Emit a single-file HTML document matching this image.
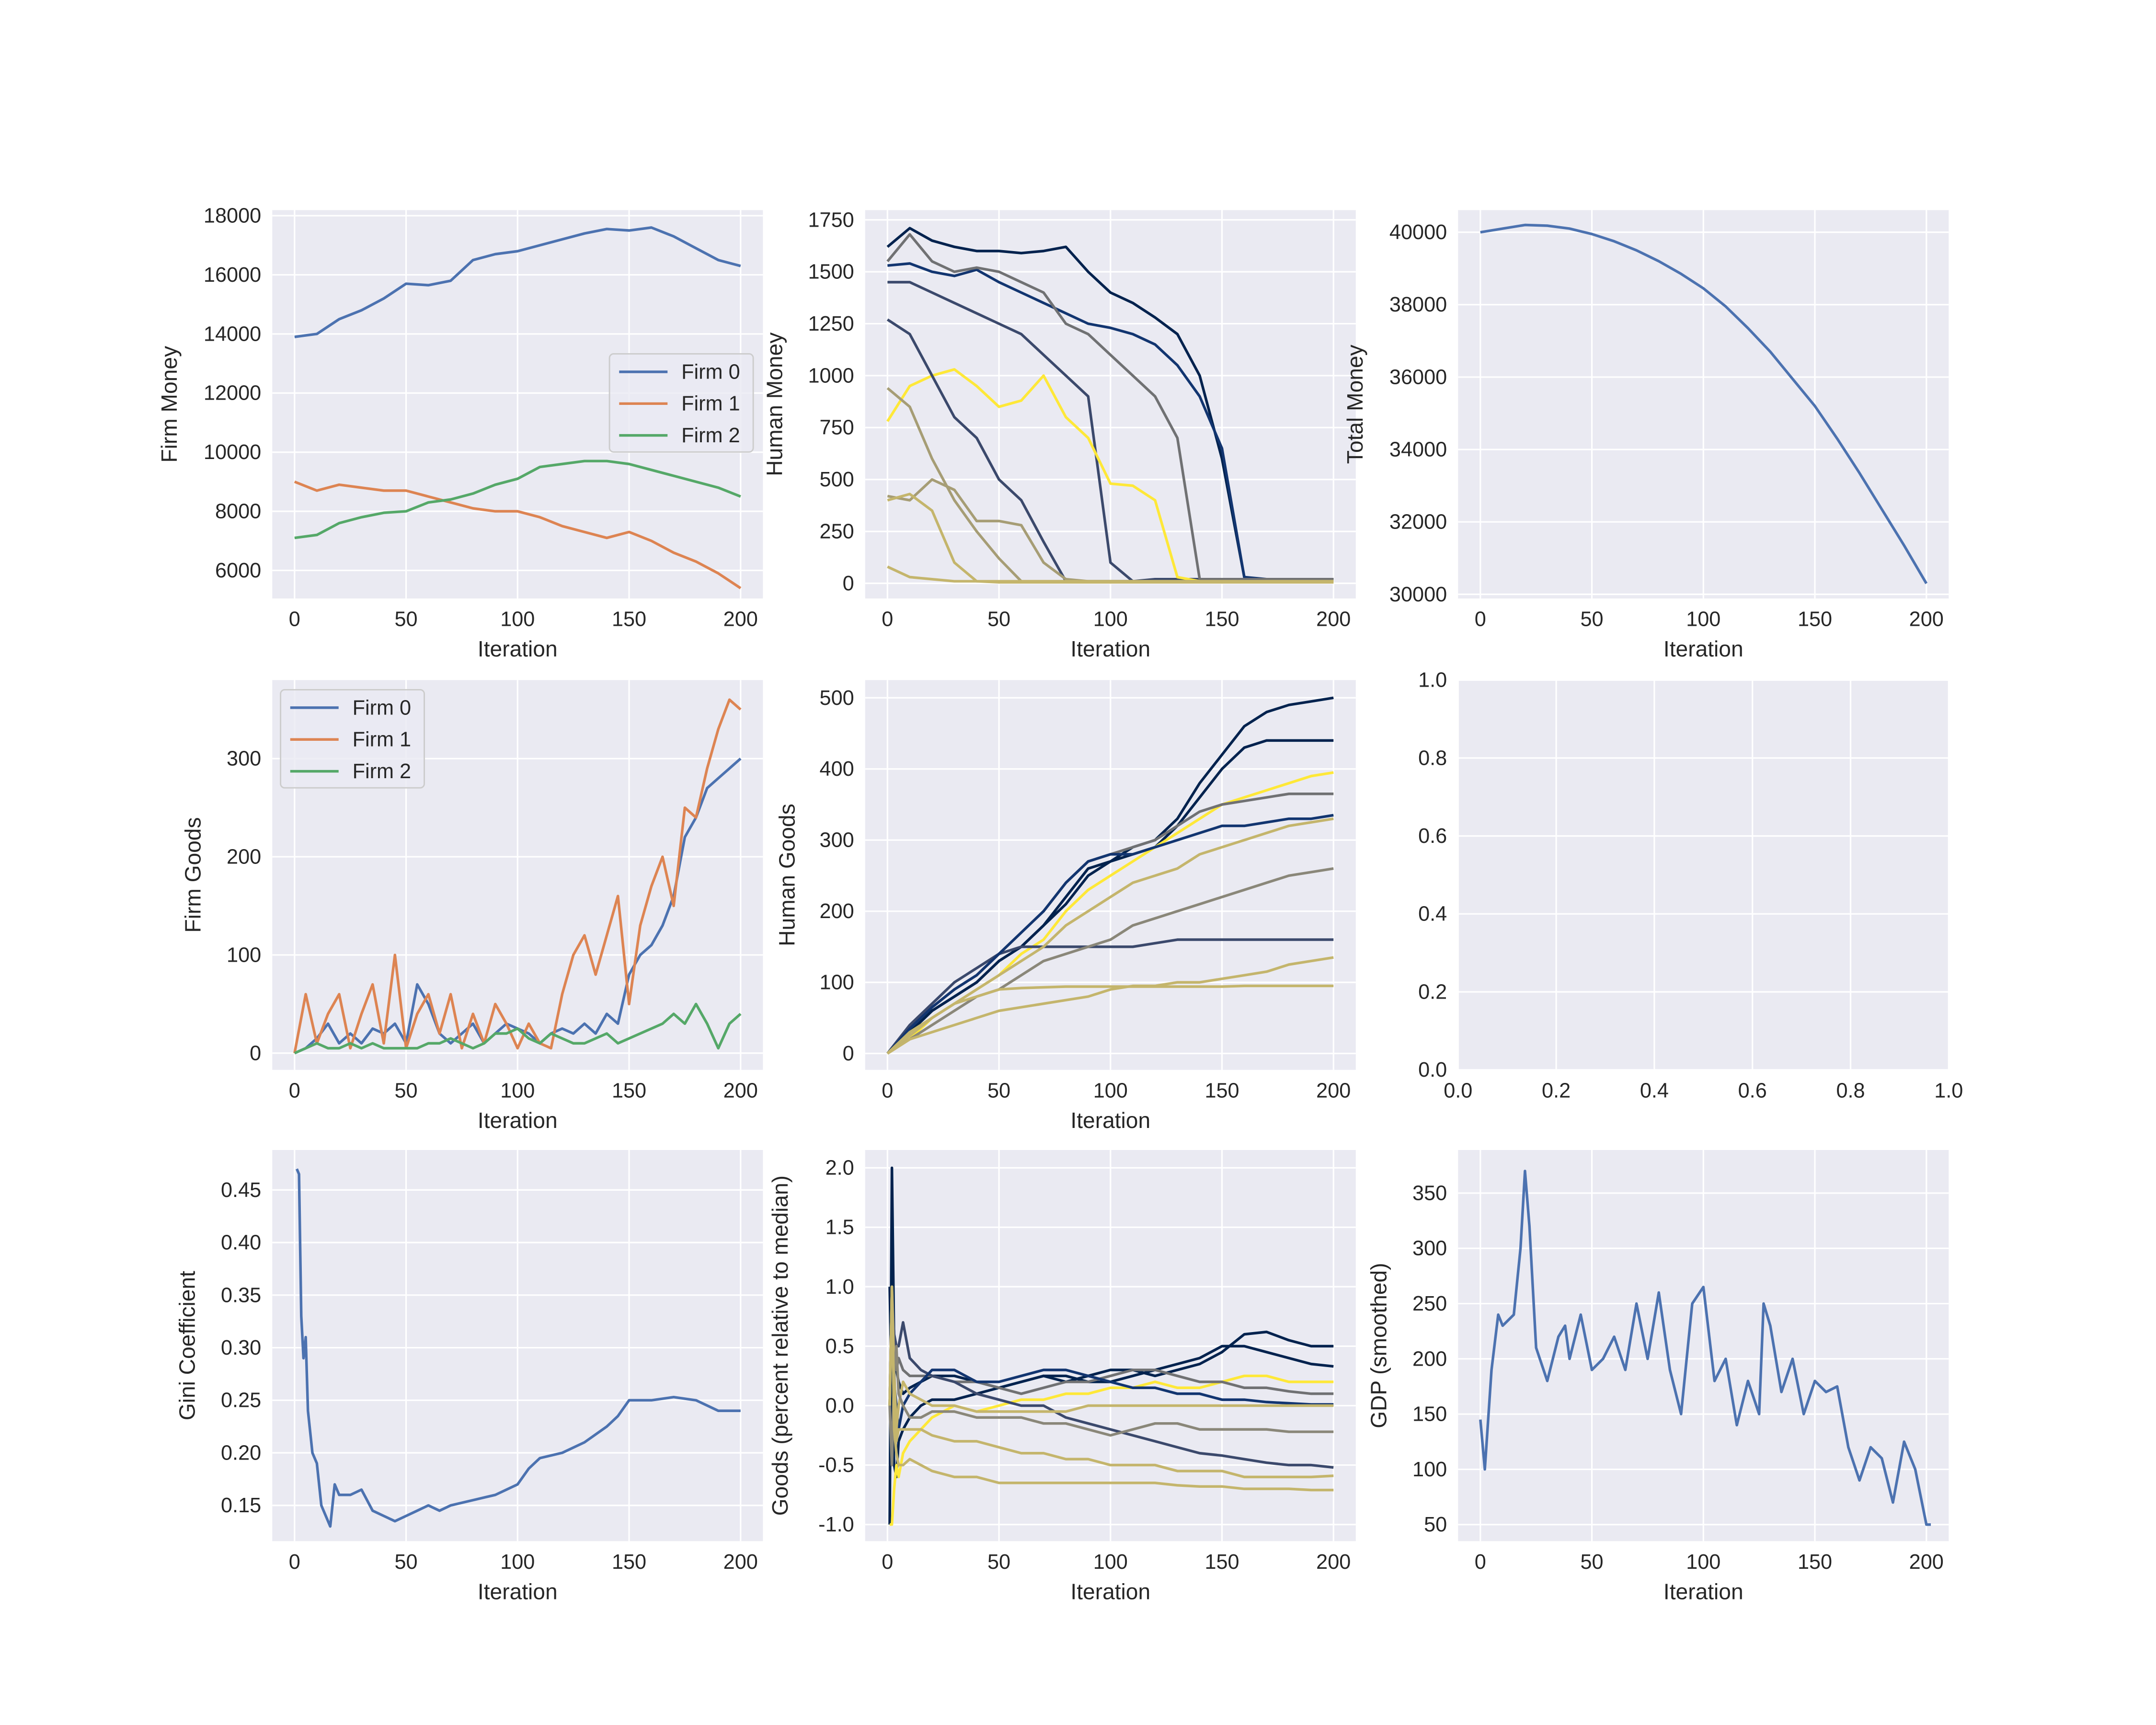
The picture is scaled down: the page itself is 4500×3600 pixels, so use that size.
<!DOCTYPE html>
<html><head><meta charset="utf-8">
<style>
html,body{margin:0;padding:0;background:#fff;}
svg{display:block;}
text{font-family:"Liberation Sans","DejaVu Sans",sans-serif;fill:#262626;}
</style></head>
<body>
<svg id="fig" width="4500" height="3600" viewBox="0 0 1560 1248" xmlns="http://www.w3.org/2000/svg"></svg>
<script>
// ---------- data ----------
const x10 = [0,10,20,30,40,50,60,70,80,90,100,110,120,130,140,150,160,170,180,190,200];
const x5 = [0,5,10,15,20,25,30,35,40,45,50,55,60,65,70,75,80,85,90,95,100,105,110,115,120,125,130,135,140,145,150,155,160,165,170,175,180,185,190,195,200];
const firmMoney0 = [13900,14000,14500,14800,15200,15700,15650,15800,16500,16700,16800,17000,17200,17400,17550,17500,17600,17300,16900,16500,16300];
const firmMoney1 = [9000,8700,8900,8800,8700,8700,8500,8300,8100,8000,8000,7800,7500,7300,7100,7300,7000,6600,6300,5900,5400];
const firmMoney2 = [7100,7200,7600,7800,7950,8000,8300,8400,8600,8900,9100,9500,9600,9700,9700,9600,9400,9200,9000,8800,8500];

const humanMoney = [
 [1620,1710,1650,1620,1600,1600,1590,1600,1620,1500,1400,1350,1280,1200,1000,600,30,10,20,20,20],
 [1530,1540,1500,1480,1510,1450,1400,1350,1300,1250,1230,1200,1150,1050,900,650,30,20,20,20,20],
 [1450,1450,1400,1350,1300,1250,1200,1100,1000,900,100,10,20,20,20,20,20,20,20,20,20],
 [1550,1680,1550,1500,1520,1500,1450,1400,1250,1200,1100,1000,900,700,20,20,20,20,20,20,20],
 [780,950,1000,1030,950,850,880,1000,800,700,480,470,400,30,10,10,10,10,10,10,10],
 [1270,1200,1000,800,700,500,400,200,10,10,10,10,10,10,10,10,10,10,10,10,10],
 [940,850,600,400,250,120,10,10,10,10,10,10,10,10,10,10,10,10,10,10,10],
 [420,400,500,450,300,300,280,100,20,10,10,10,10,10,10,10,10,10,10,10,10],
 [400,430,350,100,10,5,5,5,5,5,5,5,5,5,5,5,5,5,5,5,5],
 [80,30,20,10,10,10,10,10,10,10,10,10,10,10,10,10,10,10,10,10,10]
];
const humanMoneyColors = ["#00224e","#123570","#3b496c","#707173","#fee838","#3b496c","#a69d75","#a69d75","#c4b56c","#c4b56c"];

const totalMoney = [40000,40100,40200,40180,40100,39950,39750,39500,39200,38850,38450,37950,37350,36700,35950,35200,34300,33350,32350,31350,30300];

const firmGoods0 = [0,5,15,30,10,20,10,25,20,30,10,70,50,20,10,20,30,10,20,30,25,20,10,20,25,20,30,20,40,30,80,100,110,130,160,220,240,270,280,290,300];
const firmGoods1 = [0,60,10,40,60,5,40,70,10,100,5,40,60,20,60,5,40,10,50,30,5,30,10,5,60,100,120,80,120,160,50,130,170,200,150,250,240,290,330,360,350];
const firmGoods2 = [0,5,10,5,5,10,5,10,5,5,5,5,10,10,15,10,5,10,20,20,25,15,10,20,15,10,10,15,20,10,15,20,25,30,40,30,50,30,5,30,40];

const humanGoods = [
 [0,30,60,80,100,130,150,180,210,250,270,290,300,330,380,420,460,480,490,495,500],
 [0,30,60,80,100,130,150,180,220,260,270,280,290,320,360,400,430,440,440,440,440],
 [0,20,50,70,90,110,140,160,200,230,250,270,290,310,330,350,360,370,380,390,395],
 [0,35,65,90,110,140,170,200,240,270,280,290,300,320,340,350,355,360,365,365,365],
 [0,40,70,100,120,140,150,150,150,150,150,150,155,160,160,160,160,160,160,160,160],
 [0,35,65,90,110,140,170,200,240,270,280,280,290,300,310,320,320,325,330,330,335],
 [0,25,50,70,90,110,130,150,180,200,220,240,250,260,280,290,300,310,320,325,330],
 [0,20,40,60,80,90,110,130,140,150,160,180,190,200,210,220,230,240,250,255,260],
 [0,20,30,40,50,60,65,70,75,80,90,95,95,100,100,105,110,115,125,130,135],
 [0,30,50,70,80,90,92,93,94,94,94,94,94,94,94,94,95,95,95,95,95]
];
const humanGoodsColors = ["#00224e","#00224e","#fee838","#707173","#3b496c","#123570","#c4b56c","#8a8779","#c4b56c","#c4b56c"];

const giniX = [1,2,3,4,5,6,8,10,12,14,16,18,20,25,30,35,40,45,50,55,60,65,70,80,90,100,105,110,120,130,140,145,150,160,170,180,190,200];
const gini = [0.47,0.465,0.33,0.29,0.31,0.24,0.2,0.19,0.15,0.14,0.13,0.17,0.16,0.16,0.165,0.145,0.14,0.135,0.14,0.145,0.15,0.145,0.15,0.155,0.16,0.17,0.185,0.195,0.2,0.21,0.225,0.235,0.25,0.25,0.253,0.25,0.24,0.24];

const relX = [1,2,3,4,5,7,10,15,20,30,40,50,60,70,80,90,100,110,120,130,140,150,160,170,180,190,200];
const relGoods = [
 [-1,2.0,0.5,0.3,0.2,0.1,0.15,0.2,0.25,0.25,0.2,0.15,0.2,0.25,0.2,0.25,0.3,0.3,0.25,0.3,0.35,0.45,0.6,0.62,0.55,0.5,0.5],
 [1,0.0,-0.5,-0.6,-0.3,-0.2,-0.1,0,0.05,0.05,0.1,0.15,0.2,0.25,0.25,0.2,0.2,0.25,0.3,0.35,0.4,0.5,0.5,0.45,0.4,0.35,0.33],
 [-1,-1,-0.7,-0.5,-0.6,-0.4,-0.3,-0.2,-0.1,0,-0.05,0.0,0.05,0.05,0.1,0.1,0.15,0.15,0.2,0.15,0.15,0.2,0.25,0.25,0.2,0.2,0.2],
 [0,1,0.5,0.3,0.4,0.3,0.25,0.25,0.25,0.2,0.2,0.15,0.1,0.15,0.2,0.2,0.25,0.3,0.3,0.25,0.2,0.2,0.15,0.15,0.12,0.1,0.1],
 [0,1,0.6,0.5,0.5,0.7,0.4,0.3,0.25,0.2,0.1,0.05,0,0,-0.1,-0.15,-0.2,-0.25,-0.3,-0.35,-0.4,-0.42,-0.45,-0.48,-0.5,-0.5,-0.52],
 [0,0.5,0.2,0,-0.2,0,0.1,0.2,0.3,0.3,0.2,0.2,0.25,0.3,0.3,0.25,0.2,0.15,0.15,0.1,0.1,0.05,0.05,0.03,0.02,0.01,0.01],
 [0,1,0.3,-0.2,0,0.2,0.1,0.05,0,0,-0.05,-0.05,-0.05,-0.05,-0.05,0,0,0,0,0,0,0,0,0,0,0,0],
 [0,-0.5,0.3,0.5,0.1,0.0,-0.1,-0.1,-0.05,-0.05,-0.1,-0.1,-0.1,-0.15,-0.15,-0.2,-0.25,-0.2,-0.15,-0.15,-0.2,-0.2,-0.2,-0.2,-0.22,-0.22,-0.22],
 [0,1,0,-0.3,-0.2,-0.2,-0.2,-0.2,-0.25,-0.3,-0.3,-0.35,-0.4,-0.4,-0.45,-0.45,-0.5,-0.5,-0.5,-0.55,-0.55,-0.55,-0.6,-0.6,-0.6,-0.6,-0.59],
 [0,1,-0.2,-0.4,-0.5,-0.5,-0.45,-0.5,-0.55,-0.6,-0.6,-0.65,-0.65,-0.65,-0.65,-0.65,-0.65,-0.65,-0.65,-0.67,-0.68,-0.68,-0.7,-0.7,-0.7,-0.71,-0.71]
];
const relColors = ["#00224e","#00224e","#fee838","#707173","#3b496c","#123570","#c4b56c","#8a8779","#c4b56c","#c4b56c"];

const gdpX = [0,2,5,8,10,15,18,20,22,25,30,35,38,40,45,50,55,60,65,70,75,80,85,90,95,100,105,110,115,120,125,127,130,135,140,145,150,155,160,165,170,175,180,185,190,195,200,202];
const gdp = [145,100,190,240,230,240,300,370,320,210,180,220,230,200,240,190,200,220,190,250,200,260,190,150,250,265,180,200,140,180,150,250,230,170,200,150,180,170,175,120,90,120,110,70,125,100,50,50];

const iterTicks = [0,50,100,150,200];
const unitTicks = [0,0.2,0.4,0.6,0.8,1.0];

// ---------- drawing ----------
const NS = "http://www.w3.org/2000/svg";
const svg = document.getElementById("fig");
function el(tag, attrs, parent){
  const e = document.createElementNS(NS, tag);
  for (const k in attrs) e.setAttribute(k, attrs[k]);
  (parent||svg).appendChild(e);
  return e;
}
const cols = [197,626,1055], W = 355;
const rows = [[152,433],[492,774],[832,1115]];

function makeAxes(name, c, r, xd, yd, xt, yt, xfmt, yfmt, xlabel, ylabel, ylabX){
  const x0 = cols[c], x1 = x0+W, y0 = rows[r][0], y1 = rows[r][1];
  const g = el("g", {});
  
  
  const bg = el("rect", {x:x0, y:y0, width:W, height:y1-y0, fill:"#eaeaf2"}, g);
  
  
  const sx = v => x0 + (v - xd[0])/(xd[1]-xd[0])*W;
  const sy = v => y1 - (v - yd[0])/(yd[1]-yd[0])*(y1-y0);
  xt.forEach(t => {
    const gl = el("line", {x1:sx(t), x2:sx(t), y1:y0, y2:y1, stroke:"#fff", "stroke-width":1.1}, g);
    
    
    const tl = el("text", {x:sx(t), y:y1+20, "font-size":15, "text-anchor":"middle"}, g);
    tl.textContent = xfmt(t);
    
    
  });
  yt.forEach(t => {
    const gl = el("line", {x1:x0, x2:x1, y1:sy(t), y2:sy(t), stroke:"#fff", "stroke-width":1.1}, g);
    
    
    const tl = el("text", {x:x0-8, y:sy(t)+5, "font-size":15, "text-anchor":"end"}, g);
    tl.textContent = yfmt(t);
    
    
  });
  if (xlabel){
    const xl = el("text", {x:(x0+x1)/2, y:y1+42, "font-size":16, "text-anchor":"middle"}, g);
    xl.textContent = xlabel;
    
    
  }
  if (ylabel){
    const cy = (y0+y1)/2;
    const yl = el("text", {x:ylabX, y:cy, "font-size":16, "text-anchor":"middle", transform:`rotate(-90 ${ylabX} ${cy})`}, g);
    yl.textContent = ylabel;
    
    
  }
  return {g, sx, sy};
}
function series(ax, xs, ys, color, name){
  const d = xs.map((x,i)=> (i?"L":"M") + ax.sx(x).toFixed(2) + " " + ax.sy(ys[i]).toFixed(2)).join(" ");
  const p = el("path", {d, fill:"none", stroke:color, "stroke-width":1.9, "stroke-linejoin":"round"}, ax.g);
  
  
}
function legend(ax, x, y, entries){
  const lg = el("g", {}, ax.g);
  
  
  el("rect", {x, y, width:104, height:71, rx:3, fill:"#eaeaf2", stroke:"#cccccc", "stroke-width":1, "fill-opacity":0.8}, lg);
  entries.forEach((e,i)=>{
    const ey = y + 13 + i*23;
    const ln = el("line", {x1:x+7, x2:x+42, y1:ey, y2:ey, stroke:e[1], "stroke-width":1.9}, lg);
    
    
    const t = el("text", {x:x+52, y:ey+5, "font-size":15}, lg);
    t.textContent = e[0];
    
    
  });
}
const fInt = v => String(v);
const f1 = v => v.toFixed(1);
const f2 = v => v.toFixed(2);
const B="#4c72b0", O="#dd8452", G="#55a868";

// Panel 1
let ax = makeAxes("firm-money-chart",0,0,[-10,210],[5050,18190],iterTicks,[6000,8000,10000,12000,14000,16000,18000],fInt,fInt,"Iteration","Firm Money",128);
series(ax,x10,firmMoney0,B,"firm-0-money-line");
series(ax,x10,firmMoney1,O,"firm-1-money-line");
series(ax,x10,firmMoney2,G,"firm-2-money-line");
legend(ax,441,256,[["Firm 0",B],["Firm 1",O],["Firm 2",G]]);

// Panel 2
ax = makeAxes("human-money-chart",1,0,[-10,210],[-73,1797],iterTicks,[0,250,500,750,1000,1250,1500,1750],fInt,fInt,"Iteration","Human Money",566);
humanMoney.forEach((s,i)=>series(ax,x10,s,humanMoneyColors[i],"human-money-line"));

// Panel 3
ax = makeAxes("total-money-chart",2,0,[-10,210],[29885,40611],iterTicks,[30000,32000,34000,36000,38000,40000],fInt,fInt,"Iteration","Total Money",986);
series(ax,x10,totalMoney,B,"total-money-line");

// Panel 4
ax = makeAxes("firm-goods-chart",0,1,[-10,210],[-17,380],iterTicks,[0,100,200,300],fInt,fInt,"Iteration","Firm Goods",145);
series(ax,x5,firmGoods0,B,"firm-0-goods-line");
series(ax,x5,firmGoods1,O,"firm-1-goods-line");
series(ax,x5,firmGoods2,G,"firm-2-goods-line");
legend(ax,203,499,[["Firm 0",B],["Firm 1",O],["Firm 2",G]]);

// Panel 5
ax = makeAxes("human-goods-chart",1,1,[-10,210],[-23,525],iterTicks,[0,100,200,300,400,500],fInt,fInt,"Iteration","Human Goods",575);
humanGoods.forEach((s,i)=>series(ax,x10,s,humanGoodsColors[i],"human-goods-line"));

// Panel 6 (empty)
ax = makeAxes("empty-chart",2,1,[0,1],[0,1],unitTicks,unitTicks,f1,f1,"",""," ");

// Panel 7
ax = makeAxes("gini-chart",0,2,[-10,210],[0.116,0.488],iterTicks,[0.15,0.2,0.25,0.3,0.35,0.4,0.45],fInt,f2,"Iteration","Gini Coefficient",141);
series(ax,giniX,gini,B,"gini-line");

// Panel 8
ax = makeAxes("relative-goods-chart",1,2,[-10,210],[-1.14,2.15],iterTicks,[-1,-0.5,0,0.5,1,1.5,2],fInt,f1,"Iteration","Goods (percent relative to median)",570);
relGoods.forEach((s,i)=>series(ax,relX,s,relColors[i],"relative-goods-line"));

// Panel 9
ax = makeAxes("gdp-chart",2,2,[-10,210],[35,389],iterTicks,[50,100,150,200,250,300,350],fInt,fInt,"Iteration","GDP (smoothed)",1003);
series(ax,gdpX,gdp,B,"gdp-line");
</script>
</body></html>
